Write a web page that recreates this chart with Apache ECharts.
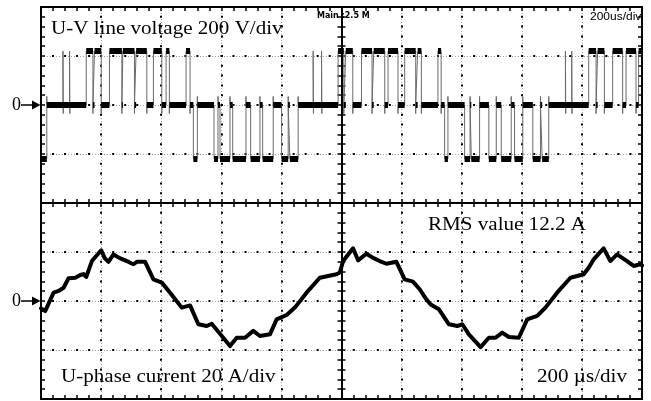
<!DOCTYPE html>
<html><head><meta charset="utf-8">
<script src="https://cdn.jsdelivr.net/npm/echarts@6/dist/echarts.min.js"></script>
<style>html,body{margin:0;padding:0;background:#fff}#c{width:651px;height:401px}</style>
</head><body><div id="c"></div>
<script>
// ---- data (time in µs, 200 µs/div; voltage in V, 200 V/div; current in A, 20 A/div)
const timeRangeUs = [0, 2000];
const voltAxisRangeV = [-1200, 400];
const currentAxisRangeA = [-40, 120];
const voltStartLevelV = -220;
const voltEdgeTimesUs = [19.3,150.5,172.8,178.1,200.3,227.9,269.1,272.4,311.0,316.6,352.2,374.1,402.0,416.3,427.2,482.7,496.0,507.0,520.3,575.8,589.0,595.7,628.9,637.9,682.1,697.7,728.6,737.6,772.8,800.7,822.6,828.3,855.8,988.7,1007.7,1014.3,1037.6,1066.5,1101.7,1107.3,1143.9,1154.8,1188.1,1210.3,1246.9,1253.5,1265.8,1320.9,1331.6,1343.2,1354.2,1409.7,1427.9,1431.9,1459.5,1490.4,1515.0,1531.6,1564.8,1575.8,1603.3,1636.6,1662.1,1667.8,1689.7,1822.6,1847.2,1852.5,1874.8,1902.4,1935.6,1946.9,1980.1,1988.7];
const voltEdgeLevelsV = [0,220,0,220,0,220,0,220,0,220,0,220,0,220,0,220,0,-220,0,-220,0,-220,0,-220,0,-220,0,-220,0,-220,0,-220,0,220,0,220,0,220,0,220,0,220,0,220,0,220,0,220,0,-220,0,-220,0,-220,0,-220,0,-220,0,-220,0,-220,0,-220,0,220,0,220,0,220,0,220,0,220];
const voltSpikeTimesUs = [73.1, 95.0, 905.7, 933.6, 1745.2, 1766.1];
const voltSpikeLevelV = 220;
const voltOvershootV = 35;
const currentTimesUs = [0,14.3,41.9,58.5,75.1,91.7,114,130.6,141.5,150.5,169.4,200.3,212,224.6,241.2,262,285.7,300,307.6,318.9,346.5,374.1,402,429.6,468.4,496,523.6,551.5,568.1,595.7,628.9,651.2,678.7,706.3,728.6,761.8,784.1,817.3,844.9,883.7,927.9,983.4,994.4,1005.3,1038.5,1055.1,1083,1105,1127.2,1149.5,1182.7,1210.3,1237.9,1260.2,1282.4,1296.7,1324.2,1357.5,1385.4,1402,1423.9,1462.8,1490.4,1512.6,1534.9,1556.8,1590,1617.9,1651.2,1678.7,1717.6,1761.8,1805.9,1822.6,1839.2,1872.4,1894.7,1917,1950.2,1972.1,1994.3,2000];
const currentValuesA = [-3,-4.1,3.4,4.1,5.4,9.3,9.5,10.6,11,9.8,16.3,20.7,17.5,16.0,19.0,17.5,16.3,15.4,15.0,16.0,16.0,8.8,7.5,3.4,-2.7,-1.8,-9.5,-10.2,-9.3,-13.4,-18.4,-15,-15,-12.2,-14.3,-13.6,-7.5,-5.7,-2.7,3.4,9.5,10.9,11.6,16.3,21.5,16.6,19.3,17.6,16.3,15.2,16,8.8,7.9,4.8,0.7,-1.4,-3.4,-9.5,-10.2,-9.5,-13.6,-18.8,-15,-15,-12.9,-14.7,-15,-7.5,-6.1,-2.7,3.4,9.5,10.9,13.6,17,21.5,16.3,19,16.3,14.3,15,14.5];
const textVoltage = 'U-V line voltage 200 V/div';
const textCurrent = 'U-phase current 20 A/div';
const textRms = 'RMS value 12.2 A';
const textTimebase = '200 µs/div';
const textScopeTime = '200us/div';
const textScopeMain = 'Main :2.5 M';
const textZero = '0';

// ---- build series data
const events = voltEdgeTimesUs.map((t, i) => ({t, lv: voltEdgeLevelsV[i]}));
voltSpikeTimesUs.forEach(t => events.push({t, spike: true}));
events.sort((a, b) => a.t - b.t);
const thin = [];
let lvl = voltStartLevelV;
thin.push([timeRangeUs[0], lvl]);
events.forEach(e => {
  if (e.spike) {
    thin.push([e.t, lvl], [e.t, voltSpikeLevelV], [e.t + 1, voltSpikeLevelV], [e.t + 1, lvl - voltOvershootV], [e.t + 1, lvl]);
  } else {
    thin.push([e.t, lvl]);
    if (e.lv === 0 && lvl !== 0) thin.push([e.t, -Math.sign(lvl) * voltOvershootV]);
    thin.push([e.t, e.lv]);
    lvl = e.lv;
  }
});
thin.push([timeRangeUs[1], lvl]);

const thick = [];
let t0 = timeRangeUs[0];
lvl = voltStartLevelV;
voltEdgeTimesUs.forEach((t, i) => {
  thick.push([t0, lvl], [t, lvl], [t, '-']);
  t0 = t; lvl = voltEdgeLevelsV[i];
});
thick.push([t0, lvl], [timeRangeUs[1], lvl]);

const current = currentTimesUs.map((t, i) => [t, currentValuesA[i]]);

// ---- chart
const BLACK = '#000';
const tickStyle = {color: BLACK, width: 1.5};
function axisBase(extra) {
  return Object.assign({
    type: 'value',
    axisLabel: {show: false},
    axisLine: {show: true, onZero: false, lineStyle: {color: BLACK, width: 2}},
    axisTick: {show: true, inside: true, length: 4, lineStyle: tickStyle},
    minorTick: {show: true, splitNumber: 5, length: 4, lineStyle: tickStyle},
    splitLine: {show: false}
  }, extra);
}
const grayDots = {show: true, lineStyle: {color: '#a0a0a0', width: 1, type: [1, 2]}};

const chart = echarts.init(document.getElementById('c'), null, {renderer: 'canvas'});
chart.setOption({
  animation: false,
  backgroundColor: '#fff',
  grid: {left: 41, top: 7, width: 601, height: 392, show: false},
  xAxis: [
    axisBase({min: timeRangeUs[0], max: timeRangeUs[1], interval: 200, position: 'bottom', splitLine: grayDots}),
    axisBase({min: timeRangeUs[0], max: timeRangeUs[1], interval: 200, position: 'top',
      splitLine: {show: true, lineStyle: {color: BLACK, width: 2, type: [2, 7.8], dashOffset: 1}}}),
    axisBase({min: timeRangeUs[0], max: timeRangeUs[1], interval: 200, position: 'bottom',
      axisLine: {show: true, onZero: true, onZeroAxisIndex: 2, lineStyle: {color: BLACK, width: 2}}}),
    axisBase({min: timeRangeUs[0], max: timeRangeUs[1], interval: 200, position: 'bottom',
      axisLine: {show: true, onZero: true, onZeroAxisIndex: 2, lineStyle: {color: BLACK, width: 2}},
      axisTick: {show: true, inside: false, length: 4, lineStyle: tickStyle}}),
    {type: 'value', min: -5, max: 5, show: false, axisLine: {onZero: false}, splitLine: {show: false}}
  ],
  yAxis: [
    axisBase({min: voltAxisRangeV[0], max: voltAxisRangeV[1], interval: 200, position: 'left', splitLine: grayDots}),
    axisBase({min: currentAxisRangeA[0], max: currentAxisRangeA[1], interval: 20, position: 'right',
      splitLine: {show: true, lineStyle: {color: BLACK, width: 2, type: [2, 10.03], dashOffset: 1}}}),
    axisBase({min: -4, max: 4, interval: 1, position: 'left',
      axisLine: {show: true, onZero: true, onZeroAxisIndex: 4, lineStyle: {color: BLACK, width: 2}}}),
    axisBase({min: -4, max: 4, interval: 1, position: 'left',
      axisLine: {show: true, onZero: true, onZeroAxisIndex: 4, lineStyle: {color: BLACK, width: 2}},
      axisTick: {show: true, inside: false, length: 4, lineStyle: tickStyle}})
  ],
  series: [
    {type: 'line', xAxisIndex: 0, yAxisIndex: 0, data: thin, showSymbol: false, symbol: 'none',
      lineStyle: {color: '#6a6a6a', width: 1}, silent: true, z: 3},
    {type: 'line', xAxisIndex: 0, yAxisIndex: 0, data: thick, showSymbol: false, symbol: 'none', connectNulls: false,
      lineStyle: {color: BLACK, width: 6}, silent: true, z: 4},
    {type: 'line', xAxisIndex: 0, yAxisIndex: 1, data: current, showSymbol: false, symbol: 'none',
      lineStyle: {color: BLACK, width: 4, join: 'round', cap: 'round'}, silent: true, z: 4}
  ]
});

const zeroV = chart.convertToPixel({yAxisIndex: 0}, 0);
const zeroI = chart.convertToPixel({yAxisIndex: 1}, 0);
const serif = '18px "Liberation Serif", "Times New Roman", serif';
function txt(text, x, y, font, sx) {
  return {type: 'text', x: x, y: y, scaleX: sx, z: 100,
    style: {text: text, font: font, fill: BLACK, align: 'left', verticalAlign: 'middle'}};
}
function zeroMarker(y) {
  return [
    txt(textZero, 12, y, serif, 1.0),
    {type: 'line', z: 100, shape: {x1: 21, y1: y, x2: 33, y2: y}, style: {stroke: BLACK, lineWidth: 1.5}},
    {type: 'polygon', z: 100, shape: {points: [[32, y - 4.5], [40.5, y], [32, y + 4.5]]}, style: {fill: BLACK}}
  ];
}
chart.setOption({
  graphic: [
    txt(textVoltage, 51, 29.5, serif, 1.17),
    txt(textCurrent, 61, 377, serif, 1.17),
    txt(textRms, 428, 225, serif, 1.17),
    txt(textTimebase, 537, 377, serif, 1.17),
    txt(textScopeTime, 590, 17, '10px "Liberation Sans", Arial, sans-serif', 1.2),
    txt(textScopeMain, 317, 15.5, 'bold 8px "DejaVu Sans", sans-serif', 1.0)
  ].concat(zeroMarker(zeroV), zeroMarker(zeroI))
});
</script></body></html>
